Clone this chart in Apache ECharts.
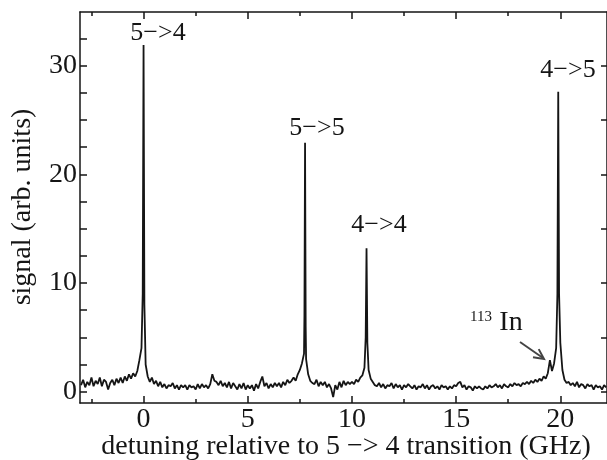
<!DOCTYPE html>
<html>
<head>
<meta charset="utf-8">
<script src="https://cdn.jsdelivr.net/npm/echarts@6/dist/echarts.min.js"></script>
<style>
html,body{margin:0;padding:0;background:#fff;}
#chart{width:607px;height:460px;}
</style>
</head>
<body>
<div id="chart"></div>
<script>
// ---- data ----
// detuning grid: start and step (GHz); signal sampled every 0.1 GHz
const gridStartGHz = -3.0;
const gridStepGHz = 0.1;
const signalA = [ // -3.0 .. -0.1
  0.6, 1.1, 0.4, 0.9, 0.6, 1.3, 0.5, 1.0, 0.7, 1.3,
  0.5, 1.1, 0.9, 0.2, 0.8, 1.1, 0.6, 1.2, 0.8, 1.3,
  0.8, 1.4, 1.0, 1.6, 1.2, 1.7, 1.4, 1.9, 2.9, 4.0
];
const signalB = [ // 0.0 .. 9.9
  31.9, 2.5, 1.4, 0.9, 1.3, 0.7, 1.0, 0.5, 0.9, 0.4,
  0.7, 0.3, 0.6, 0.5, 0.8, 0.3, 0.6, 0.2, 0.6, 0.4,
  0.6, 0.2, 0.6, 0.4, 0.5, 0.2, 0.7, 0.3, 0.7, 0.4,
  0.6, 0.3, 0.7, 1.6, 1.0, 0.9, 0.6, 1.0, 0.5, 0.8,
  0.4, 0.9, 0.3, 0.8, 0.5, 0.2, 0.7, 0.3, 0.8, 0.2,
  0.6, 0.3, 0.6, 0.1, 0.7, 0.3, 0.9, 1.4, 0.5, 0.8,
  0.3, 0.7, 0.4, 0.8, 0.5, 0.8, 0.4, 0.9, 0.6, 1.1,
  0.8, 1.0, 1.3, 1.0, 1.6, 2.0, 2.6, 3.5, 3.0, 1.6,
  1.0, 0.8, 0.7, 1.1, 0.5, 0.9, 0.6, 0.9, 0.4, 0.7,
  0.3, -0.5, 0.6, 0.2, 0.9, 0.4, 1.0, 0.6, 0.9, 0.7
];
const signalC = [ // 10.0 .. 19.9
  0.9, 0.7, 1.1, 0.9, 1.3, 1.5, 2.2, 13.2, 2.0, 1.2,
  0.9, 0.6, 0.5, 0.8, 0.4, 0.7, 0.3, 0.6, 0.5, 0.8,
  0.3, 0.7, 0.4, 0.6, 0.2, 0.6, 0.4, 0.7, 0.5, 0.3,
  0.6, 0.2, 0.5, 0.4, 0.7, 0.3, 0.6, 0.2, 0.5, 0.6,
  0.3, 0.5, 0.2, 0.6, 0.4, 0.5, 0.2, 0.5, 0.3, 0.6,
  0.5, 0.8, 0.9, 0.4, 0.6, 0.2, 0.5, 0.4, 0.1, 0.5,
  0.3, 0.5, 0.3, 0.2, 0.5, 0.3, 0.6, 0.4, 0.5, 0.7,
  0.4, 0.6, 0.3, 0.7, 0.5, 0.4, 0.7, 0.5, 0.8, 0.6,
  0.7, 0.5, 0.8, 0.7, 0.9, 0.7, 1.0, 0.8, 1.1, 0.9,
  1.2, 1.0, 1.4, 1.2, 1.7, 2.9, 1.9, 2.6, 4.0, 27.6
];
const signalD = [ // 20.0 .. 22.2
  4.5, 2.0, 1.1, 0.8, 0.9, 0.6, 0.8, 0.5, 0.9, 0.4,
  0.7, 0.6, 0.3, 0.7, 0.5, 0.6, 0.2, 0.6, 0.4, 0.5,
  0.2, 0.6, 0.4
];
// extra samples around the line centres (between grid points)
const peakDetuning = [-0.04, 0.04, 7.72, 7.75, 7.78, 10.66, 10.74, 19.86, 19.94];
const peakSignal   = [ 9.0,  8.0,  7.0, 22.9,  6.0,  5.0,   4.5,   9.0,   9.0];

// axis ticks
const xMajorTicks = [0, 5, 10, 15, 20];
const xMinorTicks = [-2.5, 2.5, 7.5, 12.5, 17.5];
const yLabelTicks = [0, 10, 20, 30];
const yLeftTicks = [0, 2.5, 5, 7.5, 10, 12.5, 15, 17.5, 20, 22.5, 25, 27.5, 30, 32.5];
const yRightTicks = [0, 5, 10, 15, 20, 25, 30];

// annotations
const peakLabels = ['5\u2212>4', '5\u2212>5', '4\u2212>4', '4\u2212>5'];
const xTitle = 'detuning relative to 5 \u2212> 4 transition (GHz)';
const yTitle = 'signal (arb. units)';

// ---- build ----
const signal = signalA.concat(signalB, signalC, signalD);
const points = signal.map((v, i) => [Math.round((gridStartGHz + i * gridStepGHz) * 100) / 100, v]);
peakDetuning.forEach((x, i) => points.push([x, peakSignal[i]]));
points.sort((a, b) => a[0] - b[0]);

const FONT = "'Liberation Serif','Times New Roman',serif";
const INK = '#151515';
const X_MIN = -3.05, X_MAX = 22.24, Y_MIN = -1.04, Y_MAX = 34.93;

function xAx(pos, ticks, len, labels, showLine) {
  return {
    type: 'value', position: pos, min: X_MIN, max: X_MAX,
    axisLine: {show: showLine, onZero: false, lineStyle: {color: INK, width: 1.5}},
    axisTick: {show: true, inside: true, length: len, customValues: ticks, lineStyle: {color: INK, width: 1.5}},
    axisLabel: labels ? {show: true, customValues: labels, margin: 3, fontSize: 28, fontFamily: FONT, color: INK} : {show: false},
    splitLine: {show: false}
  };
}
function yAx(pos, ticks, len, labels, showLine) {
  return {
    type: 'value', position: pos, min: Y_MIN, max: Y_MAX,
    axisLine: {show: showLine, onZero: false, lineStyle: {color: INK, width: 1.5}},
    axisTick: {show: true, inside: true, length: len, customValues: ticks, lineStyle: {color: INK, width: 1.5}},
    axisLabel: labels ? {show: true, customValues: labels, margin: 3, fontSize: 28, fontFamily: FONT, color: INK} : {show: false},
    splitLine: {show: false}
  };
}

const chart = echarts.init(document.getElementById('chart'), null, {renderer: 'canvas'});
const txt = (s, x, y, size, extra) => ({
  type: 'text', x: x, y: y,
  style: Object.assign({text: s, fontSize: size, fontFamily: FONT, fill: INK, align: 'center', verticalAlign: 'middle'}, extra || {})
});

const option = {
  animation: false,
  backgroundColor: '#fff',
  grid: {left: 80, right: 0, top: 12, bottom: 57, containLabel: false},
  xAxis: [
    xAx('bottom', xMajorTicks, 7, xMajorTicks, true),
    xAx('bottom', xMinorTicks, 4, null, false),
    xAx('top', xMajorTicks, 7, null, true),
    xAx('top', xMinorTicks, 4, null, false)
  ],
  yAxis: [
    yAx('left', yLeftTicks, 7, yLabelTicks, true),
    yAx('right', yRightTicks, 6, null, true)
  ],
  series: [{
    type: 'line', xAxisIndex: 0, yAxisIndex: 0,
    data: points, showSymbol: false, symbol: 'none',
    lineStyle: {color: INK, width: 1.8}, clip: true
  }],
  graphic: [
    txt(peakLabels[0], 158, 33, 26),
    txt(peakLabels[1], 317, 128, 26),
    txt(peakLabels[2], 379, 225, 26),
    txt(peakLabels[3], 568, 70, 26),
    txt('113', 481, 317, 15),
    txt('In', 511, 323, 28),
    {type: 'polyline', shape: {points: [[520, 342], [543, 358]]}, style: {stroke: '#444', lineWidth: 2}},
    {type: 'polyline', shape: {points: [[538.7, 349.1], [544, 359], [533, 357.3]]}, style: {stroke: '#444', lineWidth: 2, fill: null}},
    txt(xTitle, 346, 447, 28),
    {type: 'text', x: 23, y: 207, rotation: Math.PI / 2,
     style: {text: yTitle, fontSize: 28, fontFamily: FONT, fill: INK, align: 'center', verticalAlign: 'middle'}}
  ]
};
chart.setOption(option);
</script>
</body>
</html>
